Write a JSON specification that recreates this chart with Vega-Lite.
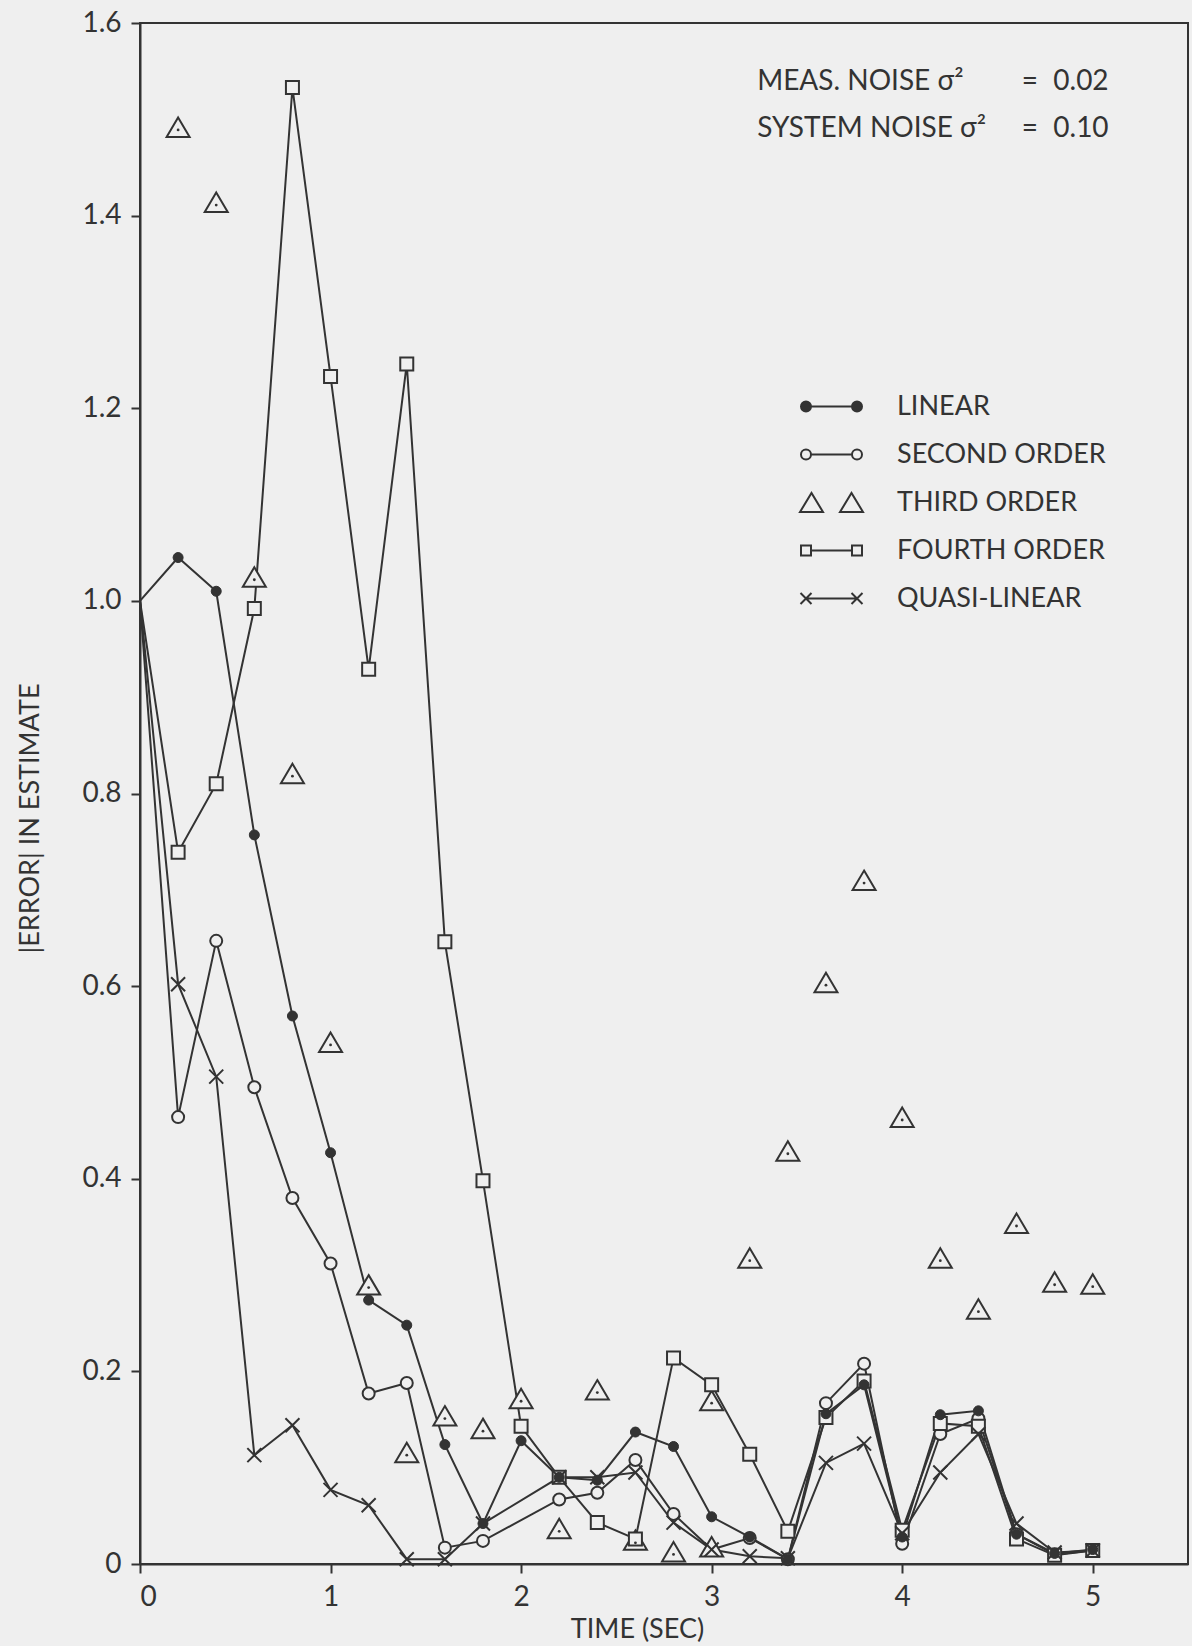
{
  "$schema": "https://vega.github.io/schema/vega-lite/v6.json",
  "autosize": {"type": "none"},
  "width": 1048,
  "height": 1541,
  "padding": {"left": 140, "top": 23, "right": 4, "bottom": 82},
  "background": "#efefef",
  "config": {
    "font": "Lato",
    "view": {"stroke": "#333333", "strokeWidth": 2},
    "axis": {
      "grid": false,
      "domainColor": "#333333",
      "domainWidth": 2,
      "tickColor": "#333333",
      "tickWidth": 2,
      "tickSize": 9,
      "labelPadding": 10,
      "labelFontSize": 28,
      "labelColor": "#333333",
      "titleFontSize": 27,
      "titleFontWeight": "normal",
      "titleColor": "#333333"
    }
  },
  "datasets": {
    "errors": [
      {"series": "LINEAR", "time": 0, "error": 1.0},
      {"series": "LINEAR", "time": 0.2, "error": 1.045},
      {"series": "LINEAR", "time": 0.4, "error": 1.01},
      {"series": "LINEAR", "time": 0.6, "error": 0.757},
      {"series": "LINEAR", "time": 0.8, "error": 0.569},
      {"series": "LINEAR", "time": 1.0, "error": 0.427},
      {"series": "LINEAR", "time": 1.2, "error": 0.274},
      {"series": "LINEAR", "time": 1.4, "error": 0.248},
      {"series": "LINEAR", "time": 1.6, "error": 0.124},
      {"series": "LINEAR", "time": 1.8, "error": 0.042},
      {"series": "LINEAR", "time": 2.0, "error": 0.128},
      {"series": "LINEAR", "time": 2.2, "error": 0.09},
      {"series": "LINEAR", "time": 2.4, "error": 0.087},
      {"series": "LINEAR", "time": 2.6, "error": 0.137},
      {"series": "LINEAR", "time": 2.8, "error": 0.122},
      {"series": "LINEAR", "time": 3.0, "error": 0.049},
      {"series": "LINEAR", "time": 3.2, "error": 0.028},
      {"series": "LINEAR", "time": 3.4, "error": 0.005},
      {"series": "LINEAR", "time": 3.6, "error": 0.156},
      {"series": "LINEAR", "time": 3.8, "error": 0.186},
      {"series": "LINEAR", "time": 4.0, "error": 0.028},
      {"series": "LINEAR", "time": 4.2, "error": 0.155},
      {"series": "LINEAR", "time": 4.4, "error": 0.159},
      {"series": "LINEAR", "time": 4.6, "error": 0.031},
      {"series": "LINEAR", "time": 4.8, "error": 0.011},
      {"series": "LINEAR", "time": 5.0, "error": 0.015},

      {"series": "SECOND ORDER", "time": 0, "error": 1.0},
      {"series": "SECOND ORDER", "time": 0.2, "error": 0.464},
      {"series": "SECOND ORDER", "time": 0.4, "error": 0.647},
      {"series": "SECOND ORDER", "time": 0.6, "error": 0.495},
      {"series": "SECOND ORDER", "time": 0.8, "error": 0.38},
      {"series": "SECOND ORDER", "time": 1.0, "error": 0.312},
      {"series": "SECOND ORDER", "time": 1.2, "error": 0.177},
      {"series": "SECOND ORDER", "time": 1.4, "error": 0.188},
      {"series": "SECOND ORDER", "time": 1.6, "error": 0.017},
      {"series": "SECOND ORDER", "time": 1.8, "error": 0.024},
      {"series": "SECOND ORDER", "time": 2.2, "error": 0.067},
      {"series": "SECOND ORDER", "time": 2.4, "error": 0.074},
      {"series": "SECOND ORDER", "time": 2.6, "error": 0.108},
      {"series": "SECOND ORDER", "time": 2.8, "error": 0.052},
      {"series": "SECOND ORDER", "time": 3.0, "error": 0.015},
      {"series": "SECOND ORDER", "time": 3.2, "error": 0.027},
      {"series": "SECOND ORDER", "time": 3.4, "error": 0.005},
      {"series": "SECOND ORDER", "time": 3.6, "error": 0.167},
      {"series": "SECOND ORDER", "time": 3.8, "error": 0.208},
      {"series": "SECOND ORDER", "time": 4.0, "error": 0.021},
      {"series": "SECOND ORDER", "time": 4.2, "error": 0.135},
      {"series": "SECOND ORDER", "time": 4.4, "error": 0.151},
      {"series": "SECOND ORDER", "time": 4.6, "error": 0.031},
      {"series": "SECOND ORDER", "time": 4.8, "error": 0.01},
      {"series": "SECOND ORDER", "time": 5.0, "error": 0.014},

      {"series": "THIRD ORDER", "time": 0.2, "error": 1.49},
      {"series": "THIRD ORDER", "time": 0.4, "error": 1.412},
      {"series": "THIRD ORDER", "time": 0.6, "error": 1.023},
      {"series": "THIRD ORDER", "time": 0.8, "error": 0.819},
      {"series": "THIRD ORDER", "time": 1.0, "error": 0.54},
      {"series": "THIRD ORDER", "time": 1.2, "error": 0.288},
      {"series": "THIRD ORDER", "time": 1.4, "error": 0.114},
      {"series": "THIRD ORDER", "time": 1.6, "error": 0.152},
      {"series": "THIRD ORDER", "time": 1.8, "error": 0.139},
      {"series": "THIRD ORDER", "time": 2.0, "error": 0.17},
      {"series": "THIRD ORDER", "time": 2.2, "error": 0.035},
      {"series": "THIRD ORDER", "time": 2.4, "error": 0.179},
      {"series": "THIRD ORDER", "time": 2.6, "error": 0.023},
      {"series": "THIRD ORDER", "time": 2.8, "error": 0.011},
      {"series": "THIRD ORDER", "time": 3.0, "error": 0.168},
      {"series": "THIRD ORDER", "time": 3.0, "error": 0.016},
      {"series": "THIRD ORDER", "time": 3.2, "error": 0.316},
      {"series": "THIRD ORDER", "time": 3.4, "error": 0.427},
      {"series": "THIRD ORDER", "time": 3.6, "error": 0.602},
      {"series": "THIRD ORDER", "time": 3.8, "error": 0.708},
      {"series": "THIRD ORDER", "time": 4.0, "error": 0.462},
      {"series": "THIRD ORDER", "time": 4.2, "error": 0.316},
      {"series": "THIRD ORDER", "time": 4.4, "error": 0.263},
      {"series": "THIRD ORDER", "time": 4.6, "error": 0.352},
      {"series": "THIRD ORDER", "time": 4.8, "error": 0.291},
      {"series": "THIRD ORDER", "time": 5.0, "error": 0.289},

      {"series": "FOURTH ORDER", "time": 0, "error": 1.0},
      {"series": "FOURTH ORDER", "time": 0.2, "error": 0.739},
      {"series": "FOURTH ORDER", "time": 0.4, "error": 0.81},
      {"series": "FOURTH ORDER", "time": 0.6, "error": 0.992},
      {"series": "FOURTH ORDER", "time": 0.8, "error": 1.533},
      {"series": "FOURTH ORDER", "time": 1.0, "error": 1.233},
      {"series": "FOURTH ORDER", "time": 1.2, "error": 0.929},
      {"series": "FOURTH ORDER", "time": 1.4, "error": 1.246},
      {"series": "FOURTH ORDER", "time": 1.6, "error": 0.646},
      {"series": "FOURTH ORDER", "time": 1.8, "error": 0.398},
      {"series": "FOURTH ORDER", "time": 2.0, "error": 0.143},
      {"series": "FOURTH ORDER", "time": 2.2, "error": 0.09},
      {"series": "FOURTH ORDER", "time": 2.4, "error": 0.043},
      {"series": "FOURTH ORDER", "time": 2.6, "error": 0.026},
      {"series": "FOURTH ORDER", "time": 2.8, "error": 0.214},
      {"series": "FOURTH ORDER", "time": 3.0, "error": 0.186},
      {"series": "FOURTH ORDER", "time": 3.2, "error": 0.114},
      {"series": "FOURTH ORDER", "time": 3.4, "error": 0.034},
      {"series": "FOURTH ORDER", "time": 3.6, "error": 0.152},
      {"series": "FOURTH ORDER", "time": 3.8, "error": 0.19},
      {"series": "FOURTH ORDER", "time": 4.0, "error": 0.035},
      {"series": "FOURTH ORDER", "time": 4.2, "error": 0.146},
      {"series": "FOURTH ORDER", "time": 4.4, "error": 0.143},
      {"series": "FOURTH ORDER", "time": 4.6, "error": 0.026},
      {"series": "FOURTH ORDER", "time": 4.8, "error": 0.009},
      {"series": "FOURTH ORDER", "time": 5.0, "error": 0.014},

      {"series": "QUASI-LINEAR", "time": 0, "error": 1.0},
      {"series": "QUASI-LINEAR", "time": 0.2, "error": 0.602},
      {"series": "QUASI-LINEAR", "time": 0.4, "error": 0.506},
      {"series": "QUASI-LINEAR", "time": 0.6, "error": 0.113},
      {"series": "QUASI-LINEAR", "time": 0.8, "error": 0.144},
      {"series": "QUASI-LINEAR", "time": 1.0, "error": 0.077},
      {"series": "QUASI-LINEAR", "time": 1.2, "error": 0.061},
      {"series": "QUASI-LINEAR", "time": 1.4, "error": 0.005},
      {"series": "QUASI-LINEAR", "time": 1.6, "error": 0.005},
      {"series": "QUASI-LINEAR", "time": 1.8, "error": 0.042},
      {"series": "QUASI-LINEAR", "time": 2.2, "error": 0.09},
      {"series": "QUASI-LINEAR", "time": 2.4, "error": 0.09},
      {"series": "QUASI-LINEAR", "time": 2.6, "error": 0.095},
      {"series": "QUASI-LINEAR", "time": 2.8, "error": 0.043},
      {"series": "QUASI-LINEAR", "time": 3.0, "error": 0.015},
      {"series": "QUASI-LINEAR", "time": 3.2, "error": 0.008},
      {"series": "QUASI-LINEAR", "time": 3.4, "error": 0.006},
      {"series": "QUASI-LINEAR", "time": 3.6, "error": 0.105},
      {"series": "QUASI-LINEAR", "time": 3.8, "error": 0.125},
      {"series": "QUASI-LINEAR", "time": 4.0, "error": 0.032},
      {"series": "QUASI-LINEAR", "time": 4.2, "error": 0.095},
      {"series": "QUASI-LINEAR", "time": 4.4, "error": 0.135},
      {"series": "QUASI-LINEAR", "time": 4.6, "error": 0.042},
      {"series": "QUASI-LINEAR", "time": 4.8, "error": 0.012},
      {"series": "QUASI-LINEAR", "time": 5.0, "error": 0.014}
    ],
    "noise": [
      {"name": "MEAS. NOISE  σ²", "variance": "0.02", "row": 0},
      {"name": "SYSTEM NOISE σ²", "variance": "0.10", "row": 1}
    ]
  },
  "resolve": {"scale": {"shape": "independent"}},
  "layer": [
    {
      "data": {"name": "errors"},
      "encoding": {
        "x": {
          "field": "time",
          "type": "quantitative",
          "scale": {"domain": [0, 5.5], "nice": false, "zero": false},
          "axis": {
            "values": [0, 1, 2, 3, 4, 5],
            "format": "d",
            "title": "TIME  (SEC)",
            "titleX": 497,
            "titleY": 73,
            "titleAlign": "center",
            "titleBaseline": "alphabetic"
          }
        },
        "y": {
          "field": "error",
          "type": "quantitative",
          "scale": {"domain": [0, 1.6], "nice": false},
          "axis": {
            "values": [0, 0.2, 0.4, 0.6, 0.8, 1.0, 1.2, 1.4, 1.6],
            "labelExpr": "datum.value === 0 ? '0' : format(datum.value, '.1f')",
            "title": "|ERROR| IN ESTIMATE",
            "titleX": -110,
            "titleY": 795,
            "titleAngle": -90,
            "titleAlign": "center",
            "titleBaseline": "middle"
          }
        }
      },
      "layer": [
        {
          "transform": [{"filter": "datum.series !== 'THIRD ORDER'"}],
          "mark": {"type": "line", "stroke": "#333333", "strokeWidth": 2},
          "encoding": {
            "detail": {"field": "series", "type": "nominal"},
            "order": {"field": "time", "type": "quantitative"}
          }
        },
        {
          "transform": [{"filter": "datum.time > 0 && datum.series !== 'LINEAR'"}],
          "mark": {"type": "point", "size": 4, "fill": "#efefef", "filled": false, "stroke": "#333333", "strokeWidth": 2, "opacity": 1},
          "encoding": {
            "shape": {
              "field": "series",
              "type": "nominal",
              "scale": {
                "domain": ["LINEAR", "SECOND ORDER", "THIRD ORDER", "FOURTH ORDER", "QUASI-LINEAR"],
                "range": [
                  "M-5,0A5,5,0,1,1,5,0A5,5,0,1,1,-5,0Z",
                  "M-6,0A6,6,0,1,1,6,0A6,6,0,1,1,-6,0Z",
                  "M0,-11.5L11.5,8L-11.5,8Z",
                  "M-6.5,-6.5L6.5,-6.5L6.5,6.5L-6.5,6.5Z",
                  "M-7,-7L7,7M-7,7L7,-7"
                ]
              },
              "legend": null
            }
          }
        },
        {
          "transform": [{"filter": "datum.time > 0 && datum.series === 'LINEAR'"}],
          "mark": {"type": "point", "size": 4, "filled": true, "fill": "#333333", "stroke": "#333333", "strokeWidth": 1, "opacity": 1},
          "encoding": {
            "shape": {"field": "series", "type": "nominal", "legend": null}
          }
        },
        {
          "transform": [{"filter": "datum.series === 'THIRD ORDER'"}],
          "mark": {"type": "point", "shape": "circle", "filled": true, "fill": "#333333", "size": 8, "yOffset": 1, "opacity": 1}
        }
      ]
    },
    {
      "data": {"name": "errors"},
      "transform": [{"filter": "false"}],
      "mark": {"type": "point", "size": 4, "filled": false, "fill": "transparent", "stroke": "#333333", "strokeWidth": 2, "opacity": 1},
      "encoding": {
        "shape": {
          "field": "series",
          "type": "nominal",
          "scale": {
            "domain": ["LINEAR", "SECOND ORDER", "THIRD ORDER", "FOURTH ORDER", "QUASI-LINEAR"],
            "range": [
              "M-30.5,0A5,5,0,1,1,-20.5,0A5,5,0,1,1,-30.5,0ZM-29,0A3.5,3.5,0,1,1,-22,0A3.5,3.5,0,1,1,-29,0ZM-27.5,0A2,2,0,1,1,-23.5,0A2,2,0,1,1,-27.5,0ZM-26.5,0A1,1,0,1,1,-24.5,0A1,1,0,1,1,-26.5,0ZM20.5,0A5,5,0,1,1,30.5,0A5,5,0,1,1,20.5,0ZM22,0A3.5,3.5,0,1,1,29,0A3.5,3.5,0,1,1,22,0ZM23.5,0A2,2,0,1,1,27.5,0A2,2,0,1,1,23.5,0ZM24.5,0A1,1,0,1,1,26.5,0A1,1,0,1,1,24.5,0ZM-20.5,0L20.5,0",
              "M-30.5,0A5,5,0,1,1,-20.5,0A5,5,0,1,1,-30.5,0ZM20.5,0A5,5,0,1,1,30.5,0A5,5,0,1,1,20.5,0ZM-20.5,0L20.5,0",
              "M-31.5,9.5L-20,-9.5L-8.5,9.5ZM8.5,9.5L20,-9.5L31.5,9.5Z",
              "M-30.5,-5L-20.5,-5L-20.5,5L-30.5,5ZM20.5,-5L30.5,-5L30.5,5L20.5,5ZM-20.5,0L20.5,0",
              "M-31,-5.5L-20,5.5M-31,5.5L-20,-5.5M20,-5.5L31,5.5M20,5.5L31,-5.5M-25.5,0L25.5,0"
            ]
          },
          "legend": {
            "title": null,
            "orient": "none",
            "legendX": 660,
            "legendY": 370,
            "padding": 0,
            "labelFontSize": 27,
            "labelColor": "#333333",
            "labelLimit": 400,
            "symbolSize": 4,
            "symbolOffset": 18,
            "labelOffset": 52,
            "rowPadding": 20,
            "symbolStrokeWidth": 2,
            "symbolStrokeColor": "#333333",
            "symbolFillColor": "transparent",
            "symbolOpacity": 1
          }
        }
      }
    },
    {
      "data": {"name": "noise"},
      "mark": {"type": "text", "align": "left", "baseline": "alphabetic", "fontSize": 28, "fill": "#333333"},
      "encoding": {
        "x": {"datum": 3.239, "type": "quantitative"},
        "y": {"datum": 1.53, "type": "quantitative"},
        "yOffset": {"field": "row", "type": "quantitative", "scale": {"domain": [0, 1], "range": [0, 47]}},
        "text": {"field": "name", "type": "nominal"}
      }
    },
    {
      "data": {"name": "noise"},
      "mark": {"type": "text", "text": "=", "align": "center", "baseline": "alphabetic", "fontSize": 28, "fill": "#333333"},
      "encoding": {
        "x": {"datum": 4.67, "type": "quantitative"},
        "y": {"datum": 1.53, "type": "quantitative"},
        "yOffset": {"field": "row", "type": "quantitative", "scale": {"domain": [0, 1], "range": [0, 47]}}
      }
    },
    {
      "data": {"name": "noise"},
      "mark": {"type": "text", "align": "left", "baseline": "alphabetic", "fontSize": 28, "fill": "#333333"},
      "encoding": {
        "x": {"datum": 4.793, "type": "quantitative"},
        "y": {"datum": 1.53, "type": "quantitative"},
        "yOffset": {"field": "row", "type": "quantitative", "scale": {"domain": [0, 1], "range": [0, 47]}},
        "text": {"field": "variance", "type": "nominal"}
      }
    }
  ]
}
